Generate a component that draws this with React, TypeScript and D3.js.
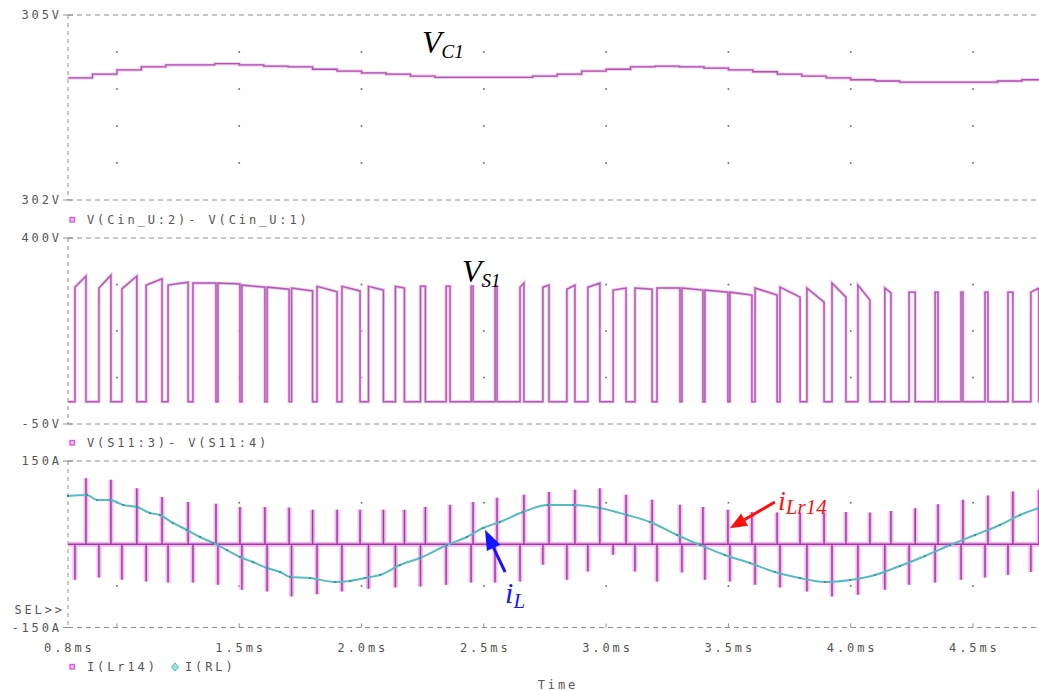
import React from 'react';
import * as d3 from 'd3';

// ---------- data ----------
const timeTicks = [1.0, 1.5, 2.0, 2.5, 3.0, 3.5, 4.0, 4.5];
const timeLabelValues = [0.8, 1.5, 2.0, 2.5, 3.0, 3.5, 4.0, 4.5];
const timeLabels = ['0.8ms', '1.5ms', '2.0ms', '2.5ms', '3.0ms', '3.5ms', '4.0ms', '4.5ms'];

const vcGrid = [304.4, 303.8, 303.2, 302.6];
const vsGrid = [287.5, 175, 62.5];
const iGrid = [75, 0, -75];

// V(Cin_U:2)-V(Cin_U:1)  (V)
const vc1Time = [0.8, 0.9, 1.0, 1.1, 1.2, 1.3, 1.4, 1.5, 1.6, 1.7, 1.8, 1.9, 2.0, 2.1, 2.2, 2.3, 2.4, 2.5, 2.6, 2.7, 2.8, 2.9, 3.0, 3.1, 3.2, 3.3, 3.4, 3.5, 3.6, 3.7, 3.8, 3.9, 4.0, 4.1, 4.2, 4.3, 4.4, 4.5, 4.6, 4.7, 4.8];
const vc1Volt = [303.98, 304.04, 304.11, 304.16, 304.19, 304.19, 304.21, 304.19, 304.17, 304.16, 304.12, 304.09, 304.06, 304.04, 304.01, 303.99, 303.99, 303.99, 303.99, 304.01, 304.04, 304.09, 304.12, 304.16, 304.17, 304.16, 304.14, 304.11, 304.08, 304.04, 304.01, 303.98, 303.95, 303.93, 303.91, 303.91, 303.91, 303.91, 303.93, 303.95, 303.96];

// V(S11:3)-V(S11:4): pulse centres (ms), widths (us), top levels (V)
const vsCenters = [0.851, 0.951, 1.051, 1.152, 1.250, 1.358, 1.458, 1.558, 1.659, 1.757, 1.859, 1.957, 2.059, 2.157, 2.251, 2.354, 2.452, 2.550, 2.656, 2.754, 2.856, 2.950, 3.055, 3.153, 3.255, 3.353, 3.451, 3.551, 3.654, 3.752, 3.856, 3.952, 4.054, 4.152, 4.251, 4.351, 4.455, 4.555, 4.653, 4.753];
const vsWidthsUs = [45, 49, 61, 65, 82, 94, 90, 94, 90, 86, 82, 74, 61, 37, 20, 16, 8, 8, 16, 25, 33, 49, 53, 70, 94, 86, 94, 90, 90, 82, 70, 57, 49, 25, 25, 12, 8, 12, 20, 33];
const vsTopStart = [281, 279, 277, 286, 286, 291, 291, 286, 281, 279, 283, 283, 283, 283, 283, 283, 283, 283, 281, 281, 276, 281, 274, 279, 279, 279, 274, 269, 279, 281, 279, 291, 286, 279, 269, 269, 269, 269, 269, 269];
const vsTopEnd = [308, 310, 308, 301, 293, 291, 289, 281, 276, 272, 270, 272, 274, 279, 283, 283, 283, 283, 291, 286, 286, 291, 279, 276, 279, 274, 269, 262, 262, 257, 245, 257, 250, 267, 269, 269, 269, 269, 269, 279];
const vsLow = 4;

// I(Lr14): spike peaks at each switching edge (A)
const ilrPos = [119, 116, 101, 85, 76, 73, 67, 67, 66, 62, 62, 62, 62, 62, 67, 71, 76, 84, 89, 94, 98, 101, 89, 80, 71, 67, 62, 58, 57, 57, 57, 58, 57, 60, 65, 72, 80, 88, 95, 98];
const ilrNeg = [-64, -60, -64, -67, -69, -69, -73, -82, -85, -94, -90, -85, -80, -78, -76, -73, -69, -69, -67, -37, -64, -49, -19, -49, -67, -51, -64, -67, -73, -78, -85, -94, -91, -82, -73, -69, -64, -60, -55, -50];

// I(RL) (A)
const ilTime = [0.800, 0.878, 0.919, 0.972, 1.025, 1.082, 1.135, 1.176, 1.229, 1.286, 1.340, 1.393, 1.450, 1.503, 1.556, 1.614, 1.667, 1.708, 1.789, 1.892, 1.953, 2.014, 2.076, 2.157, 2.239, 2.349, 2.431, 2.497, 2.566, 2.660, 2.762, 2.865, 2.975, 3.085, 3.179, 3.290, 3.384, 3.486, 3.588, 3.690, 3.792, 3.895, 3.997, 4.099, 4.201, 4.304, 4.406, 4.508, 4.610, 4.692, 4.770];
const ilAmp = [87.0, 88.8, 79.7, 79.7, 70.7, 67.1, 56.3, 52.7, 38.3, 25.7, 13.1, 2.3, -10.4, -23.0, -32.0, -42.8, -50.0, -59.0, -60.8, -68.0, -66.2, -60.8, -55.4, -37.4, -24.8, -1.4, 13.1, 29.3, 40.1, 58.1, 70.7, 70.7, 65.3, 52.7, 40.1, 16.7, -1.4, -19.4, -33.8, -50.0, -60.8, -68.0, -64.4, -55.4, -39.2, -21.2, -1.4, 16.7, 34.7, 52.7, 65.3];

// ---------- layout ----------
const W = 1039;
const H = 691;
const X0 = 68;
const grey = '#8e8e8e';
const textGrey = '#555';
const mono = '"DejaVu Sans Mono", monospace';
const serif = '"Liberation Serif", "Times New Roman", serif';

const x = d3.scaleLinear().domain([0.8, 4.8]).range([X0, X0 + 4 * 244.6]);
const y1 = d3.scaleLinear().domain([302, 305]).range([200, 15]);
const y2 = d3.scaleLinear().domain([-50, 400]).range([424, 238]);
const y3 = d3.scaleLinear().domain([-150, 150]).range([627.5, 461]);

function arrowHead(x1: number, yA: number, x2: number, yB: number, len: number, wid: number) {
  const dx = x2 - x1, dy = yB - yA;
  const L = Math.hypot(dx, dy);
  const ux = dx / L, uy = dy / L;
  const bx = x2 - ux * len, by = yB - uy * len;
  const nx = -uy, ny = ux;
  return {
    pts: `${x2},${yB} ${bx + nx * wid / 2},${by + ny * wid / 2} ${bx - nx * wid / 2},${by - ny * wid / 2}`,
    bx, by,
  };
}

export default function App() {
  const vc1Line = d3.line<[number, number]>().x(d => x(d[0])).y(d => y1(d[1])).curve(d3.curveStepAfter);
  const vc1Pts: [number, number][] = vc1Time.map((t, i) => [t, vc1Volt[i]]);

  const vsPts: [number, number][] = [[0.8, vsLow]];
  const ilrPts: [number, number][] = [[0.8, 0]];
  vsCenters.forEach((c, i) => {
    const r = c - vsWidthsUs[i] / 2000;
    const f = c + vsWidthsUs[i] / 2000;
    vsPts.push([r, vsLow], [r, vsTopStart[i]], [f, vsTopEnd[i]], [f, vsLow]);
    ilrPts.push([r, 0], [r, ilrNeg[i]], [r, 0], [f, 0], [f, ilrPos[i]], [f, 0]);
  });
  vsPts.push([4.8, vsLow]);
  ilrPts.push([4.8, 0]);
  const vsLine = d3.line<[number, number]>().x(d => x(d[0])).y(d => y2(d[1]));
  const ilrLine = d3.line<[number, number]>().x(d => x(d[0])).y(d => y3(d[1]));
  const ilPts: [number, number][] = ilTime.map((t, i) => [t, ilAmp[i]]);
  const ilLine = d3.line<[number, number]>().x(d => x(d[0])).y(d => y3(d[1])).curve(d3.curveMonotoneX);

  const panels = [
    { top: y1(305), bot: y1(302), topLab: '305V', botLab: '302V' },
    { top: y2(400), bot: y2(-50), topLab: '400V', botLab: '-50V' },
    { top: y3(150), bot: y3(-150), topLab: '150A', botLab: '-150A' },
  ];

  const red = arrowHead(x(3.69), y3(76), x(3.506), y3(29), 17, 14);
  const blue = arrowHead(x(2.587), y3(-50), x(2.505), y3(26), 20, 15);

  const monoStyle = { fontFamily: mono, fontSize: 12, letterSpacing: 2.9, fill: textGrey } as any;

  return (
    <svg width={W} height={H} style={{ position: 'absolute', left: 0, top: 0, background: '#fff' }}>
      <rect x={0} y={0} width={W} height={H} fill="#fff" />
      {/* frames */}
      {panels.map((p, i) => (
        <g key={i}>
          <line x1={X0} x2={W} y1={p.top} y2={p.top} stroke={grey} strokeDasharray="5,4" />
          <line x1={X0} x2={W} y1={p.bot} y2={p.bot} stroke={grey} strokeDasharray="5,4" />
          <line x1={X0} x2={X0} y1={p.top} y2={p.bot} stroke={grey} strokeDasharray="4,4" />
          <line x1={X0 - 5} x2={X0 + 5} y1={p.top} y2={p.top} stroke={grey} />
          <line x1={X0 - 5} x2={X0 + 5} y1={p.bot} y2={p.bot} stroke={grey} />
          <text x={62} y={p.top + 4.4} textAnchor="end" style={monoStyle}>{p.topLab}</text>
          <text x={62} y={p.bot + 4.4} textAnchor="end" style={monoStyle}>{p.botLab}</text>
        </g>
      ))}
      {/* grid dots */}
      {timeTicks.map(t => (
        <g key={t}>
          {vcGrid.map(v => <circle key={'a' + v} cx={x(t)} cy={y1(v)} r={1} fill="#777" />)}
          {vsGrid.map(v => <circle key={'b' + v} cx={x(t)} cy={y2(v)} r={1} fill="#777" />)}
          {iGrid.map(v => <circle key={'c' + v} cx={x(t)} cy={y3(v)} r={1} fill="#777" />)}
          <line x1={x(t)} x2={x(t)} y1={y3(-150)} y2={y3(-150) - 4} stroke={grey} />
        </g>
      ))}
      {/* x labels */}
      {timeLabelValues.map((t, i) => (
        <text key={t} x={x(t) + 1.4} y={652} textAnchor="middle" style={monoStyle}>{timeLabels[i]}</text>
      ))}
      <text x={558} y={689} textAnchor="middle" style={monoStyle}>Time</text>
      <text x={65} y={614} textAnchor="end" style={monoStyle}>SEL&gt;&gt;</text>

      {/* legends */}
      <rect x={70} y={217.5} width={4.5} height={4.5} fill="#f4c4f4" stroke="#e050e0" strokeWidth={1.3} />
      <text x={87} y={224.4} style={monoStyle}>V(Cin_U:2)- V(Cin_U:1)</text>
      <rect x={70} y={440.5} width={4.5} height={4.5} fill="#f4c4f4" stroke="#e050e0" strokeWidth={1.3} />
      <text x={87} y={447.4} style={monoStyle}>V(S11:3)- V(S11:4)</text>
      <rect x={70} y={664.5} width={4.5} height={4.5} fill="#f4c4f4" stroke="#e050e0" strokeWidth={1.3} />
      <text x={87} y={671.4} style={monoStyle}>I(Lr14)</text>
      <path d="M175,663 L178.5,667 L175,671 L171.5,667 Z" fill="#9fe0e0" stroke="#40c0c8" strokeWidth={1} />
      <text x={185} y={671.4} style={monoStyle}>I(RL)</text>

      {/* traces */}
      <path d={vc1Line(vc1Pts) || ''} fill="none" stroke="#ecc0ec" strokeWidth={3} />
      <path d={vc1Line(vc1Pts) || ''} fill="none" stroke="#b050b0" strokeWidth={1.3} />

      <path d={vsLine(vsPts) || ''} fill="none" stroke="#efc6ef" strokeWidth={3.2} />
      <path d={vsLine(vsPts) || ''} fill="none" stroke="#b259b2" strokeWidth={1.5} />

      <path d={ilrLine(ilrPts) || ''} fill="none" stroke="#f0bcf0" strokeWidth={5} />
      <path d={ilrLine(ilrPts) || ''} fill="none" stroke="#a23aa2" strokeWidth={1.5} />

      <path d={ilLine(ilPts) || ''} fill="none" stroke="#56bcc4" strokeWidth={2} />
      {ilPts.map((d, i) => <circle key={i} cx={x(d[0])} cy={y3(d[1])} r={1.1} fill="#3a8794" />)}

      {/* annotations */}
      <text x={x(2.247)} y={y1(304.38)} style={{ fontFamily: serif, fontStyle: 'italic', fill: '#000' }}>
        <tspan fontSize={32}>V</tspan>
        <tspan fontSize={19} dy={5}>C1</tspan>
      </text>
      <text x={x(2.411)} y={y2(293.6)} style={{ fontFamily: serif, fontStyle: 'italic', fill: '#000' }}>
        <tspan fontSize={32}>V</tspan>
        <tspan fontSize={19} dy={5}>S1</tspan>
      </text>
      <text x={x(2.587)} y={y3(-105)} style={{ fontFamily: serif, fontStyle: 'italic', fill: '#1515ff' }}>
        <tspan fontSize={30}>i</tspan>
        <tspan fontSize={21} dy={5}>L</tspan>
      </text>
      <text x={x(3.703)} y={y3(62)} style={{ fontFamily: serif, fontStyle: 'italic', fill: '#ff1010' }}>
        <tspan fontSize={28}>i</tspan>
        <tspan fontSize={21} dy={4}>Lr14</tspan>
      </text>
      <line x1={x(3.69)} y1={y3(76)} x2={red.bx} y2={red.by} stroke="#ff1010" strokeWidth={3} />
      <polygon points={red.pts} fill="#ff1010" />
      <line x1={x(2.587)} y1={y3(-50)} x2={blue.bx} y2={blue.by} stroke="#1515ff" strokeWidth={3} />
      <polygon points={blue.pts} fill="#1515ff" />
    </svg>
  );
}
